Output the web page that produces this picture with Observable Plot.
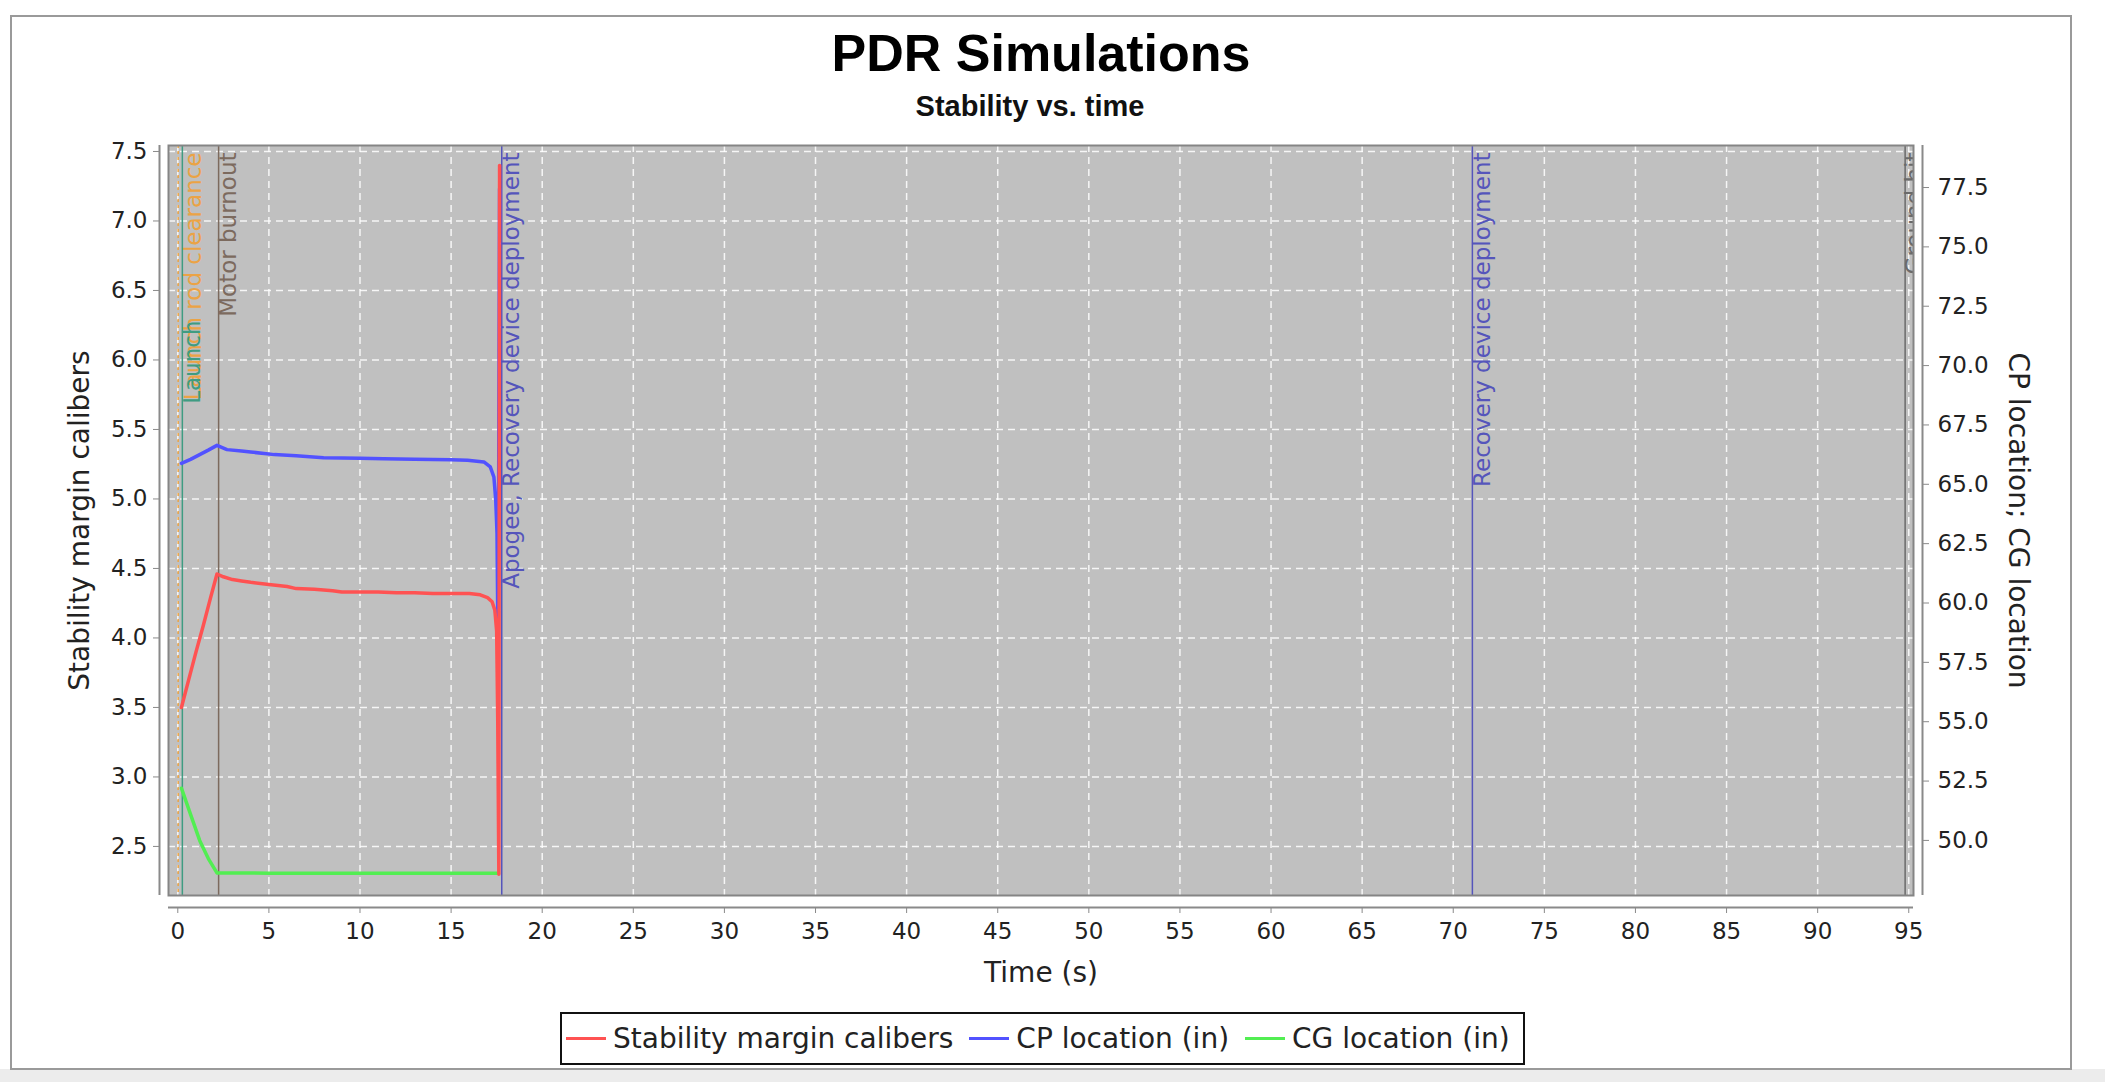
<!DOCTYPE html>
<html>
<head>
<meta charset="utf-8">
<script src="https://cdn.jsdelivr.net/npm/d3@7"></script>
<script src="https://cdn.jsdelivr.net/npm/@observablehq/plot@0.6"></script>
<style>
  html, body { margin: 0; padding: 0; background: #fff; }
  #page { position: relative; width: 2105px; height: 1082px; overflow: hidden; background: #fff; }
  #strip { position: absolute; left: 0; top: 1069px; width: 2105px; height: 13px; background: #ececec; }
  #border { position: absolute; left: 10px; top: 15px; width: 2058px; height: 1051px; border: 2px solid #9a9a9a; }
  #header { position: absolute; left: 0; top: 0; width: 2105px; height: 130px; }
  #title { position: absolute; left: 0; width: 2082px; top: 27px; text-align: center;
           font: bold 52px "Liberation Sans", Arial, sans-serif; line-height: 52px; color: #000; }
  #subtitle { position: absolute; left: 0; width: 2060px; top: 92px; text-align: center;
              font: bold 29px "Liberation Sans", Arial, sans-serif; line-height: 29px; color: #111; }
  #chart { position: absolute; left: 0; top: 130px; }
  #legend { position: absolute; left: 560px; top: 1012px; width: 957px; height: 49px;
            border: 2px solid #111; display: flex; align-items: center; padding-left: 4px; box-sizing: content-box;
            font: 28px "DejaVu Sans", sans-serif; color: #222; white-space: nowrap; }
  #legend .item { display: flex; align-items: center; margin-right: 16px; }
  #legend .sw { width: 40px; height: 3px; margin-right: 7px; }
</style>
</head>
<body>
<div id="page">
  <div id="strip"></div>
  <div id="border"></div>
  <div id="header">
    <div id="title">PDR Simulations</div>
    <div id="subtitle">Stability vs. time</div>
  </div>
  <div id="chart"></div>
  <div id="legend"></div>
</div>
<script>
// ---------- data ----------
const xTicks = [0, 5, 10, 15, 20, 25, 30, 35, 40, 45, 50, 55, 60, 65, 70, 75, 80, 85, 90, 95];
const leftTicks = [2.5, 3.0, 3.5, 4.0, 4.5, 5.0, 5.5, 6.0, 6.5, 7.0, 7.5];
const rightTicks = [50.0, 52.5, 55.0, 57.5, 60.0, 62.5, 65.0, 67.5, 70.0, 72.5, 75.0, 77.5];
const xDomain = [-0.51, 95.26];
const leftDomain = [2.147, 7.543];
const rightDomain = [47.68, 79.27];

const seriesNames = ["Stability margin calibers", "CP location (in)", "CG location (in)"];

const stabilityTime  = [0.20, 0.60, 1.00, 1.40, 1.80, 2.15, 2.50, 3.00, 3.50, 4.00, 5.00, 6.00, 6.50, 7.50, 8.50, 9.00, 10.0, 11.0, 12.0, 13.0, 14.0, 15.0, 16.0, 16.6, 17.0, 17.25, 17.40, 17.50, 17.56, 17.62, 17.66];
const stabilityValue = [3.50, 3.70, 3.90, 4.09, 4.29, 4.46, 4.44, 4.42, 4.41, 4.40, 4.385, 4.37, 4.355, 4.35, 4.34, 4.33, 4.33, 4.33, 4.325, 4.325, 4.32, 4.32, 4.32, 4.31, 4.29, 4.26, 4.20, 4.05, 3.40, 2.30, 7.40];

const cpTime  = [0.20, 0.70, 1.20, 1.70, 2.15, 2.70, 3.50, 4.00, 5.30, 6.50, 8.00, 10.0, 11.3, 13.0, 14.0, 15.0, 15.9, 16.8, 17.15, 17.35, 17.45, 17.52, 17.58, 17.66];
const cpValue = [65.88, 66.05, 66.25, 66.45, 66.64, 66.46, 66.40, 66.36, 66.25, 66.20, 66.12, 66.10, 66.08, 66.06, 66.04, 66.03, 66.01, 65.94, 65.73, 65.30, 64.32, 62.93, 57.80, 77.45];

const cgTime  = [0.20, 0.70, 1.20, 1.70, 2.15, 5.00, 10.0, 15.0, 17.60];
const cgValue = [52.2, 51.1, 50.0, 49.2, 48.63, 48.62, 48.62, 48.62, 48.62];

const eventTime  = [0.02, 0.25, 2.24, 17.78, 71.05, 94.8];
const eventLabel = ["Launch rod clearance", "Launch", "Motor burnout", "Apogee, Recovery device deployment", "Recovery device deployment", "Ground hit"];

// ---------- styles ----------
const seriesColors = ["#ff5252", "#5252ff", "#52ee52"];
const eventColors = ["#eba345", "#3f9c82", "#7c6a5e", "#5555bb", "#5555bb", "#6a6a6a"];

const toLeft = d3.scaleLinear().domain(rightDomain).range(leftDomain);
const stability = stabilityTime.map((t, i) => ({t, v: stabilityValue[i]}));
const cp = cpTime.map((t, i) => ({t, v: toLeft(cpValue[i])}));
const cg = cgTime.map((t, i) => ({t, v: toLeft(cgValue[i])}));
const events = eventTime.map((t, i) => ({t, label: eventLabel[i], color: eventColors[i], i}));
const orangeEv = events.filter(d => d.i === 0);
const launchEv = events.filter(d => d.i === 1);
const otherEv = events.filter(d => d.i > 1);

const gridStyle = {stroke: "#ffffff", strokeOpacity: 0.85, strokeWidth: 1.5, strokeDasharray: "7,5"};
const axisLine = {stroke: "#8a8a8a", strokeWidth: 2};
const labelStyle = {frameAnchor: "top", rotate: -90, textAnchor: "end", lineAnchor: "middle", fontSize: 23, clip: true};

const chart = Plot.plot({
  width: 2105,
  height: 875,
  marginTop: 15,
  marginBottom: 110,
  marginLeft: 168,
  marginRight: 192,
  style: {fontFamily: "'DejaVu Sans', sans-serif", fontSize: "23px", color: "#222", background: "transparent", overflow: "visible"},
  color: {type: "identity"},
  x: {domain: xDomain, axis: null, label: null},
  y: {domain: leftDomain, axis: null, label: null},
  marks: [
    Plot.frame({fill: "#c0c0c0"}),
    Plot.gridX(xTicks, gridStyle),
    Plot.gridY(leftTicks, gridStyle),
    Plot.ruleX(orangeEv, {x: "t", stroke: "color", strokeWidth: 1.5, strokeDasharray: "3,3"}),
    Plot.ruleX(launchEv, {x: "t", stroke: "color", strokeWidth: 1.5}),
    Plot.ruleX(otherEv, {x: "t", stroke: "color", strokeWidth: 1.5}),
    Plot.line(cg, {x: "t", y: "v", stroke: seriesColors[2], strokeWidth: 3.5, strokeLinejoin: "round"}),
    Plot.line(cp, {x: "t", y: "v", stroke: seriesColors[1], strokeWidth: 3.5, strokeLinejoin: "round"}),
    Plot.line(stability, {x: "t", y: "v", stroke: seriesColors[0], strokeWidth: 3.5, strokeLinejoin: "round"}),
    Plot.text(orangeEv, {x: "t", text: "label", fill: "color", ...labelStyle, dx: 15, dy: 7}),
    Plot.text(launchEv, {x: "t", text: "label", fill: "color", ...labelStyle, dx: 10, dy: 175}),
    Plot.text(otherEv, {x: "t", text: "label", fill: "color", ...labelStyle, dx: 10, dy: 7}),
    Plot.frame({stroke: "#858585", strokeWidth: 2}),
    // bottom axis
    Plot.ruleY([leftDomain[0]], {dy: 12, ...axisLine}),
    Plot.axisX(xTicks, {anchor: "bottom", label: null, dy: 12, tickSize: 6, tickPadding: 9, stroke: "#8a8a8a", fill: "#222",
      fontSize: 23, tickFormat: d => String(d)}),
    // left axis
    Plot.ruleX([xDomain[0]], {dx: -9, ...axisLine}),
    Plot.axisY(leftTicks, {anchor: "left", label: null, dx: -9, tickSize: 6, tickPadding: 6, stroke: "#8a8a8a", fill: "#222",
      fontSize: 23, tickFormat: d => d.toFixed(1)}),
    // right axis
    Plot.ruleX([xDomain[1]], {dx: 9, ...axisLine}),
    Plot.axisY(rightTicks, {anchor: "right", label: null, y: d => toLeft(d), dx: 9, tickSize: 6, tickPadding: 9, stroke: "#8a8a8a",
      fill: "#222", fontSize: 23, tickFormat: d => d.toFixed(1)}),
    // axis titles
    Plot.text(["Time (s)"], {text: d => d, frameAnchor: "bottom", textAnchor: "middle", lineAnchor: "bottom", dy: 86, fontSize: 28, fill: "#222"}),
    Plot.text(["Stability margin calibers"], {text: d => d, frameAnchor: "left", textAnchor: "middle", rotate: -90, lineAnchor: "middle", dx: -88, fontSize: 28, fill: "#222"}),
    Plot.text(["CP location; CG location"], {text: d => d, frameAnchor: "right", textAnchor: "middle", rotate: 90, lineAnchor: "middle", dx: 104, fontSize: 28, fill: "#222"})
  ]
});
document.getElementById("chart").appendChild(chart);

// legend
const legend = document.getElementById("legend");
seriesNames.forEach((name, i) => {
  const item = document.createElement("div");
  item.className = "item";
  const sw = document.createElement("div");
  sw.className = "sw";
  sw.style.background = seriesColors[i];
  const label = document.createElement("span");
  label.textContent = name;
  item.appendChild(sw);
  item.appendChild(label);
  legend.appendChild(item);
});
</script>
</body>
</html>
